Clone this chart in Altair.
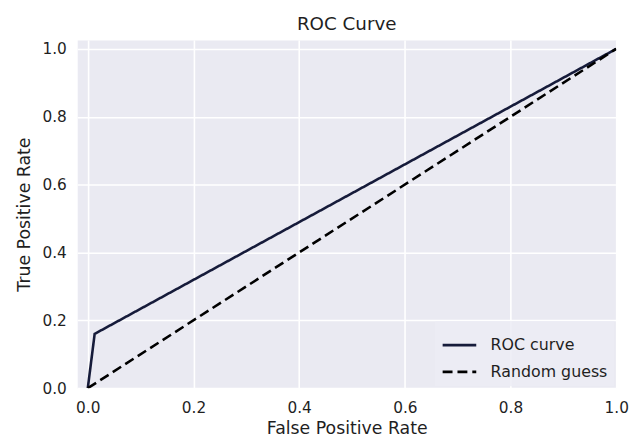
import altair as alt
import pandas as pd

# ROC curve points
roc_fpr = [0.0, 0.013, 1.0]
roc_tpr = [0.0, 0.16, 1.0]
# Random guess diagonal
rand_fpr = [0.0, 1.0]
rand_tpr = [0.0, 1.0]
series_names = ["ROC curve", "Random guess"]
tick_values = [0.0, 0.2, 0.4, 0.6, 0.8, 1.0]

rows = []
for i, (x, y) in enumerate(zip(roc_fpr, roc_tpr)):
    rows.append({"fpr": x, "tpr": y, "series": series_names[0], "order": i})
for i, (x, y) in enumerate(zip(rand_fpr, rand_tpr)):
    rows.append({"fpr": x, "tpr": y, "series": series_names[1], "order": i})
df = pd.DataFrame(rows)

FONT = "DejaVu Sans"
TXT = "#1f1f1f"

color_scale = alt.Scale(domain=series_names, range=["#161b3a", "#000000"])
dash_scale = alt.Scale(domain=series_names, range=[[1, 0], [10, 5]])

legend = alt.Legend(
    title=None,
    orient="bottom-right",
    offset=2,
    padding=6,
    fillColor="rgba(236,236,244,0.85)",
    symbolType="stroke",
    symbolSize=1156,
    symbolStrokeWidth=2.6,
    labelFontSize=16,
    labelFont=FONT,
    labelColor=TXT,
    labelOffset=13,
    rowPadding=0,
)

chart = (
    alt.Chart(df)
    .mark_line(strokeWidth=2.6, clip=True)
    .encode(
        x=alt.X(
            "fpr:Q",
            scale=alt.Scale(domain=[-0.02, 1.0], nice=False, zero=False),
            axis=alt.Axis(values=tick_values, format=".1f", title="False Positive Rate",
                          labelPadding=13, titlePadding=3, labelFlush=False),
        ),
        y=alt.Y(
            "tpr:Q",
            scale=alt.Scale(domain=[0.0, 1.026], nice=False, zero=False),
            axis=alt.Axis(values=tick_values, format=".1f", title="True Positive Rate",
                          labelPadding=11, titlePadding=9, labelFlush=False),
        ),
        color=alt.Color("series:N", scale=color_scale, legend=legend, sort=series_names),
        strokeDash=alt.StrokeDash("series:N", scale=dash_scale, legend=legend, sort=series_names),
        order="order:Q",
    )
    .properties(
        width=545,
        height=352,
        padding={"left": 7, "top": 4, "right": 5, "bottom": 0},
        title=alt.TitleParams("ROC Curve", fontSize=18.5, font=FONT, fontWeight="normal",
                              color=TXT, offset=7),
    )
    .configure_view(fill="#EAEAF2", stroke="transparent")
    .configure_axis(
        grid=True,
        gridColor="white",
        gridWidth=1.6,
        domain=False,
        ticks=False,
        labelFont=FONT,
        labelFontSize=15.5,
        labelColor=TXT,
        titleFont=FONT,
        titleFontSize=17.5,
        titleFontWeight="normal",
        titleColor=TXT,
    )
)

chart.save("out.html", embed_options={"renderer": "svg", "actions": False})
